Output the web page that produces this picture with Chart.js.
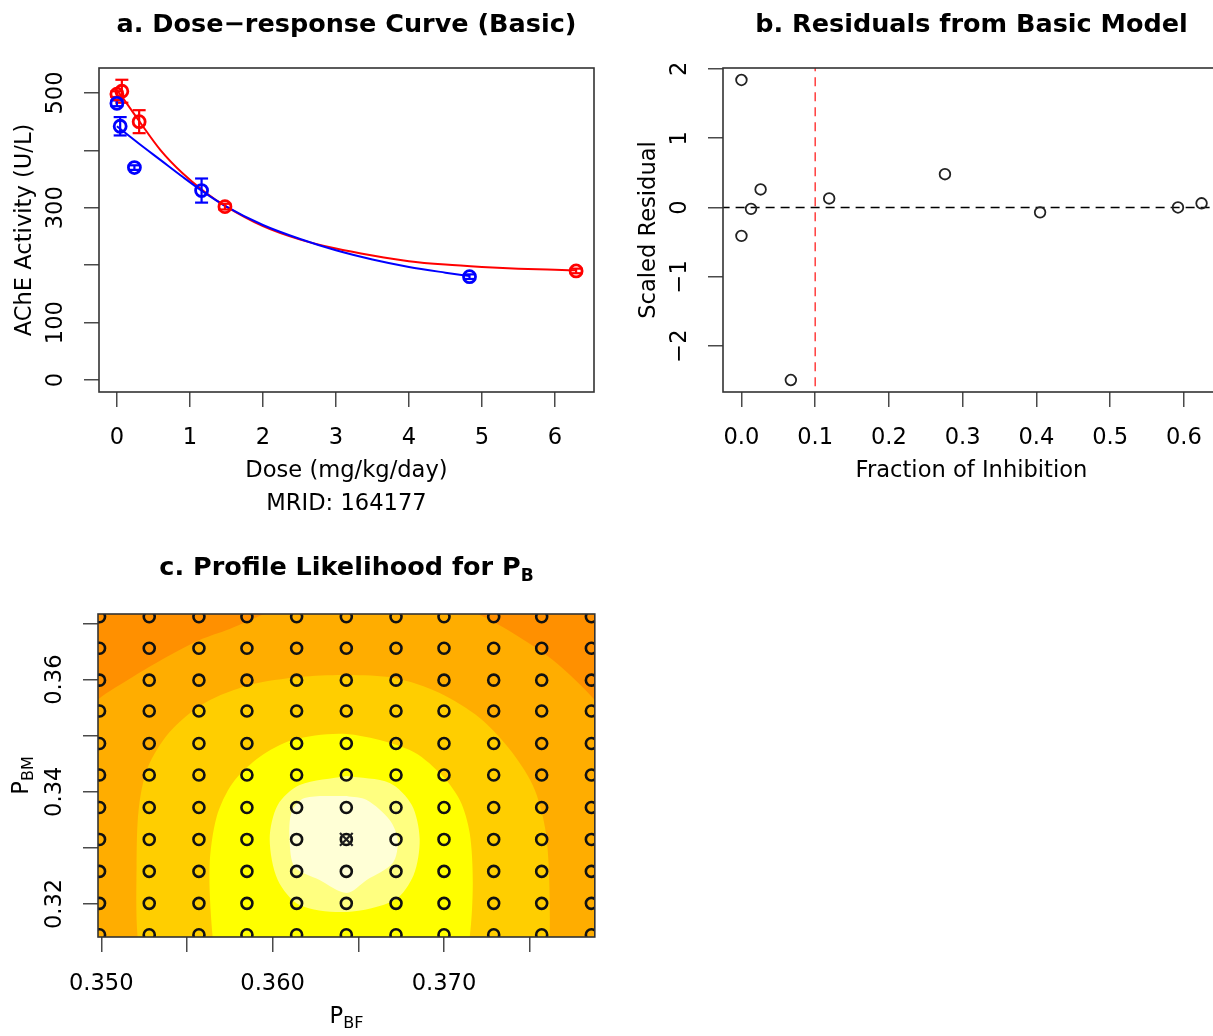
<!DOCTYPE html>
<html>
<head>
<meta charset="utf-8">
<title>AChE dose-response analysis</title>
<script src="https://cdn.jsdelivr.net/npm/chart.js@4.4.1/dist/chart.umd.min.js"></script>
<style>
html, body { margin:0; padding:0; background:#fff; }
body { position:relative; width:1213px; height:1036px; overflow:hidden; }
canvas { position:absolute; }
</style>
</head>
<body>
<canvas id="panelA" width="606" height="520" style="left:0px;top:0px"></canvas>
<canvas id="panelB" width="625" height="520" style="left:606px;top:0px"></canvas>
<canvas id="panelC" width="606" height="516" style="left:0px;top:520px"></canvas>
<script>
// ---------------- Panel a: dose-response ----------------
const redDose   = [0, 0.068, 0.305, 1.48, 6.29];
const redAChE   = [498, 503, 450, 302, 190];
const redSE     = [5, 20, 20, 5, 4];
const blueDose  = [0, 0.045, 0.24, 1.16, 4.83];
const blueAChE  = [482, 442, 370, 330, 180];
const blueSE    = [5, 16, 4, 21, 4];
const redFitDose  = [0, 0.1, 0.3, 0.6, 0.9, 1.2, 1.5, 2, 2.5, 3, 3.5, 4, 4.5, 5, 5.5, 6, 6.29];
const redFitAChE  = [505, 488, 452, 400, 360, 328, 302, 268, 245, 229, 217, 207, 201, 197, 194, 192, 191];
const blueFitDose = [0, 0.3, 0.6, 0.9, 1.16, 1.5, 2, 2.5, 3, 3.5, 4, 4.5, 4.83];
const blueFitAChE = [442, 412, 383, 354, 330, 302, 270, 246, 226, 210, 197, 187, 181];
const doseTicks = [0, 1, 2, 3, 4, 5, 6];
const achTicks = [0, 100, 200, 300, 400, 500];
const achLabelVals = [0, 100, 300, 500];

// ---------------- Panel b: residuals ----------------
const inhibFraction  = [0, 0, 0.013, 0.026, 0.067, 0.119, 0.276, 0.405, 0.592, 0.624];
const scaledResidual = [1.84, -0.41, -0.02, 0.26, -2.49, 0.13, 0.48, -0.07, 0.0, 0.06];
const fracTicks = [0, 0.1, 0.2, 0.3, 0.4, 0.5, 0.6];
const residTicks = [-2, -1, 0, 1, 2];
const residLabels = ['\u22122', '\u22121', '0', '1', '2'];
const zeroLine = 0;
const cutoffFraction = 0.1;

// ---------------- Panel c: profile likelihood ----------------
const pbfGrid = [0.3499, 0.3528, 0.3557, 0.3585, 0.3614, 0.3643, 0.3672, 0.3700, 0.3729, 0.3757, 0.3786];
const pbmGrid = [0.3145, 0.3201, 0.3258, 0.3315, 0.3372, 0.3430, 0.3486, 0.3544, 0.3599, 0.3656, 0.3712];
const pbfBest = 0.3643, pbmBest = 0.3315;
const pbfTicks = [0.350, 0.355, 0.360, 0.365, 0.370, 0.375];
const pbfLabelVals = [0.350, 0.360, 0.370];
const pbmTicks = [0.32, 0.33, 0.34, 0.35, 0.36, 0.37];
const pbmLabelVals = [0.32, 0.34, 0.36];
const heatColors = ['#FF9000', '#FFAD00', '#FFCE00', '#FFFF00', '#FFFF80', '#FFFFD6'];
// contour boundaries (PBF, PBM), outer to inner
const contourOrange = [[0.36432,0.28506],[0.34757,0.30289],[0.34698,0.33854],[0.34815,0.35102],[0.34978,0.35636],[0.35183,0.36046],[0.35381,0.36403],[0.35574,0.36706],[0.35749,0.36902],[0.35953,0.37169],[0.36216,0.37419],[0.36625,0.37526],[0.36975,0.37383],[0.37197,0.37169],[0.37401,0.36831],[0.37635,0.36349],[0.37880,0.35636],[0.38055,0.34923],[0.38172,0.33497],[0.38143,0.30289],[0.36432,0.28506]];
const contourGolden = [[0.36432,0.29219],[0.35282,0.30111],[0.35212,0.31412],[0.35206,0.32660],[0.35218,0.33676],[0.35270,0.34424],[0.35399,0.35066],[0.35603,0.35583],[0.35866,0.35904],[0.36158,0.36046],[0.36432,0.36082],[0.36712,0.36029],[0.36975,0.35761],[0.37209,0.35316],[0.37396,0.34709],[0.37530,0.34032],[0.37600,0.33141],[0.37617,0.31412],[0.37588,0.30111],[0.36432,0.29219]];
const contourYellow = [[0.36432,0.30289],[0.35691,0.30556],[0.35650,0.31412],[0.35632,0.32660],[0.35673,0.33551],[0.35767,0.34157],[0.35924,0.34620],[0.36117,0.34923],[0.36432,0.35030],[0.36800,0.34745],[0.36975,0.34335],[0.37092,0.33854],[0.37150,0.33266],[0.37168,0.32374],[0.37150,0.31412],[0.37092,0.30556],[0.36432,0.30289]];
const contourPale = [[0.36432,0.34282],[0.36683,0.34157],[0.36812,0.33765],[0.36858,0.33159],[0.36823,0.32517],[0.36712,0.32071],[0.36432,0.31857],[0.36158,0.31982],[0.36030,0.32428],[0.35983,0.33159],[0.36030,0.33765],[0.36158,0.34121],[0.36432,0.34282]];
const contourWhite = [[0.36432,0.33925],[0.36549,0.33854],[0.36683,0.33497],[0.36730,0.33141],[0.36701,0.32731],[0.36549,0.32428],[0.36432,0.32196],[0.36274,0.32428],[0.36129,0.32660],[0.36099,0.33141],[0.36111,0.33640],[0.36187,0.33889],[0.36432,0.33925]];

// ---------------- shared helpers ----------------
const FONT = '"DejaVu Sans", "Liberation Sans", sans-serif';
const AXS = 22.6, TIS = 25.5;
const TICKC = '#4a4a4a', BOXC = '#333';
Chart.defaults.font.family = FONT;
Chart.defaults.color = '#000';

function drawRich(ctx, parts, x, y, rot) {
  ctx.save();
  ctx.translate(x, y);
  if (rot) ctx.rotate(rot);
  let total = 0;
  parts.forEach(p => {
    ctx.font = (p.bold ? 'bold ' : '') + p.size + 'px ' + FONT;
    p.w = ctx.measureText(p.t).width; total += p.w;
  });
  let cx = -total / 2;
  ctx.textAlign = 'left'; ctx.textBaseline = 'alphabetic'; ctx.fillStyle = '#000';
  parts.forEach(p => {
    ctx.font = (p.bold ? 'bold ' : '') + p.size + 'px ' + FONT;
    ctx.fillText(p.t, cx, p.dy || 0);
    cx += p.w;
  });
  ctx.restore();
}

const annot = {
  id: 'annot',
  beforeDatasetsDraw(chart, args, o) {
    if (o.areaFill) {
      const a = chart.chartArea, ctx = chart.ctx;
      ctx.save(); ctx.fillStyle = o.areaFill;
      ctx.fillRect(a.left, a.top, a.right - a.left, a.bottom - a.top);
      ctx.restore();
    }
  },
  afterDatasetsDraw(chart) {
    const a = chart.chartArea, ctx = chart.ctx;
    ctx.save(); ctx.strokeStyle = BOXC; ctx.lineWidth = 1.6;
    ctx.strokeRect(a.left, a.top, a.right - a.left, a.bottom - a.top);
    ctx.restore();
  },
  afterDraw(chart, args, o) {
    const ctx = chart.ctx;
    if (o.yLabels) {
      const s = chart.scales.y;
      o.yLabels.values.forEach((v, i) => {
        drawRich(ctx, [{t: o.yLabels.labels[i], size: AXS}], o.yLabels.x, s.getPixelForValue(v), -Math.PI / 2);
      });
    }
    (o.texts || []).forEach(t => drawRich(ctx, t.parts, t.x, t.y, t.rot || 0));
  }
};

function xAxis(min, max, ticks, labelVals, fmt, height, padding) {
  return {
    type: 'linear', position: 'bottom', min, max,
    afterBuildTicks: s => { s.ticks = ticks.map(v => ({value: v})); },
    ticks: {
      autoSkip: false, maxRotation: 0, minRotation: 0, padding,
      font: {family: FONT, size: AXS}, color: '#000',
      callback: v => labelVals.some(l => Math.abs(l - v) < 1e-9) ? fmt(v) : ''
    },
    grid: {drawOnChartArea: false, drawTicks: true, tickLength: 15, tickColor: TICKC, tickWidth: 1.5, lineWidth: 1.5},
    border: {display: false},
    afterFit: s => { s.height = height; }
  };
}
function yAxis(min, max, ticks, width) {
  return {
    type: 'linear', position: 'left', min, max,
    afterBuildTicks: s => { s.ticks = ticks.map(v => ({value: v})); },
    ticks: {display: false},
    grid: {drawOnChartArea: false, drawTicks: true, tickLength: 15, tickColor: TICKC, tickWidth: 1.5, lineWidth: 1.5},
    border: {display: false},
    afterFit: s => { s.width = width; }
  };
}
function baseOptions(padding, scales, annotOpts) {
  return {
    responsive: false, animation: false, devicePixelRatio: 1, events: [],
    layout: {padding},
    plugins: {legend: {display: false}, tooltip: {enabled: false}, title: {display: false}, annot: annotOpts},
    scales
  };
}
const pts = (xs, ys) => xs.map((x, i) => ({x, y: ys[i]}));
function errorBars(xs, ys, se) {
  const d = [];
  xs.forEach((x, i) => { d.push({x, y: ys[i] - se[i]}, {x, y: ys[i] + se[i]}, {x, y: null}); });
  return d;
}

// ---------------- Panel a ----------------
function seriesSets(color, dose, ach, se, fitDose, fitAch) {
  return [
    {data: pts(fitDose, fitAch), showLine: true, borderColor: color, borderWidth: 2, pointRadius: 0,
     cubicInterpolationMode: 'monotone', order: 3},
    {data: errorBars(dose, ach, se), showLine: true, spanGaps: false, borderColor: color, borderWidth: 2.2,
     pointStyle: 'line', pointRadius: 6.5, pointBorderWidth: 2.2, pointBorderColor: color, order: 2},
    {data: pts(dose, ach), showLine: false, pointStyle: 'circle', pointRadius: 6, pointBorderWidth: 2.8,
     pointBorderColor: color, pointBackgroundColor: 'rgba(0,0,0,0)', order: 1}
  ];
}
new Chart(document.getElementById('panelA'), {
  type: 'scatter',
  data: {datasets: [
    ...seriesSets('#0000ff', blueDose, blueAChE, blueSE, blueFitDose, blueFitAChE),
    ...seriesSets('#ff0000', redDose, redAChE, redSE, redFitDose, redFitAChE)
  ]},
  options: baseOptions({left: 0, top: 68, right: 12, bottom: 0}, {
    x: xAxis(-0.245, 6.535, doseTicks, doseTicks, v => String(v), 128, 17.4),
    y: yAxis(-20.9, 543.5, achTicks, 99)
  }, {
    yLabels: {values: achLabelVals, labels: achLabelVals.map(String), x: 61.5},
    texts: [
      {parts: [{t: 'a. Dose\u2212response Curve (Basic)', size: TIS, bold: true}], x: 346.5, y: 31.7},
      {parts: [{t: 'Dose (mg/kg/day)', size: AXS}], x: 346.5, y: 477},
      {parts: [{t: 'MRID: 164177', size: AXS}], x: 346.5, y: 510},
      {parts: [{t: 'AChE Activity (U/L)', size: AXS}], x: 30.5, y: 230, rot: -Math.PI / 2}
    ]
  }),
  plugins: [annot]
});

// ---------------- Panel b ----------------
const bXmin = -0.025, bXmax = 0.649, bYmin = -2.663, bYmax = 2.013;
new Chart(document.getElementById('panelB'), {
  type: 'scatter',
  data: {datasets: [
    {data: [{x: bXmin - 1, y: zeroLine}, {x: bXmax + 1, y: zeroLine}], showLine: true, borderColor: '#000',
     borderWidth: 1.3, borderDash: [9, 6], pointRadius: 0, order: 3},
    {data: [{x: cutoffFraction, y: bYmin - 1}, {x: cutoffFraction, y: bYmax + 1}], showLine: true, borderColor: '#ff2020',
     borderWidth: 1.3, borderDash: [9, 6], pointRadius: 0, order: 2},
    {data: pts(inhibFraction, scaledResidual), showLine: false, pointStyle: 'circle', pointRadius: 5.3,
     pointBorderWidth: 1.8, pointBorderColor: '#222', pointBackgroundColor: 'rgba(0,0,0,0)', order: 1}
  ]},
  options: baseOptions({left: 0, top: 68, right: 11, bottom: 0}, {
    x: xAxis(bXmin, bXmax, fracTicks, fracTicks, v => v.toFixed(1), 128, 17.4),
    y: yAxis(bYmin, bYmax, residTicks, 117)
  }, {
    yLabels: {values: residTicks, labels: residLabels, x: 79.5},
    texts: [
      {parts: [{t: 'b. Residuals from Basic Model', size: TIS, bold: true}], x: 365.5, y: 31.7},
      {parts: [{t: 'Fraction of Inhibition', size: AXS}], x: 365.5, y: 477},
      {parts: [{t: 'Scaled Residual', size: AXS}], x: 48.5, y: 230, rot: -Math.PI / 2}
    ]
  }),
  plugins: [annot]
});

// ---------------- Panel c ----------------
const gridPoints = [];
pbmGrid.forEach(y => pbfGrid.forEach(x => gridPoints.push({x, y})));
function contourSet(poly, color, order) {
  return {data: poly.map(p => ({x: p[0], y: p[1]})), showLine: true, fill: 'shape', backgroundColor: color,
          borderColor: 'rgba(0,0,0,0)', borderWidth: 0, pointRadius: 0, tension: 0.3,
          capBezierPoints: false, clip: 0, order};
}
new Chart(document.getElementById('panelC'), {
  type: 'scatter',
  data: {datasets: [
    contourSet(contourOrange, heatColors[1], 10),
    contourSet(contourGolden, heatColors[2], 9),
    contourSet(contourYellow, heatColors[3], 8),
    contourSet(contourPale, heatColors[4], 7),
    contourSet(contourWhite, heatColors[5], 6),
    {data: gridPoints, showLine: false, pointStyle: 'circle', pointRadius: 5.5, pointBorderWidth: 2.6,
     pointBorderColor: '#111', pointBackgroundColor: 'rgba(0,0,0,0)', clip: 0, order: 1},
    {data: [{x: pbfBest, y: pbmBest}], showLine: false, pointStyle: 'crossRot', pointRadius: 9,
     pointBorderWidth: 2.2, pointBorderColor: '#222', clip: 0, order: 0}
  ]},
  options: baseOptions({left: 0, top: 94, right: 11, bottom: 0}, {
    x: xAxis(0.34981, 0.37880, pbfTicks, pbfLabelVals, v => v.toFixed(3), 99, 18.4),
    y: yAxis(0.3141, 0.3717, pbmTicks, 98)
  }, {
    areaFill: heatColors[0],
    yLabels: {values: pbmLabelVals, labels: pbmLabelVals.map(v => v.toFixed(2)), x: 61},
    texts: [
      {parts: [{t: 'c. Profile Likelihood for P', size: TIS, bold: true}, {t: 'B', size: 17, bold: true, dy: 6}], x: 346.5, y: 55},
      {parts: [{t: 'P', size: AXS}, {t: 'BF', size: 16, dy: 5}], x: 346.5, y: 503},
      {parts: [{t: 'P', size: AXS}, {t: 'BM', size: 16, dy: 5}], x: 28, y: 255.5, rot: -Math.PI / 2}
    ]
  }),
  plugins: [annot]
});
</script>
</body>
</html>
